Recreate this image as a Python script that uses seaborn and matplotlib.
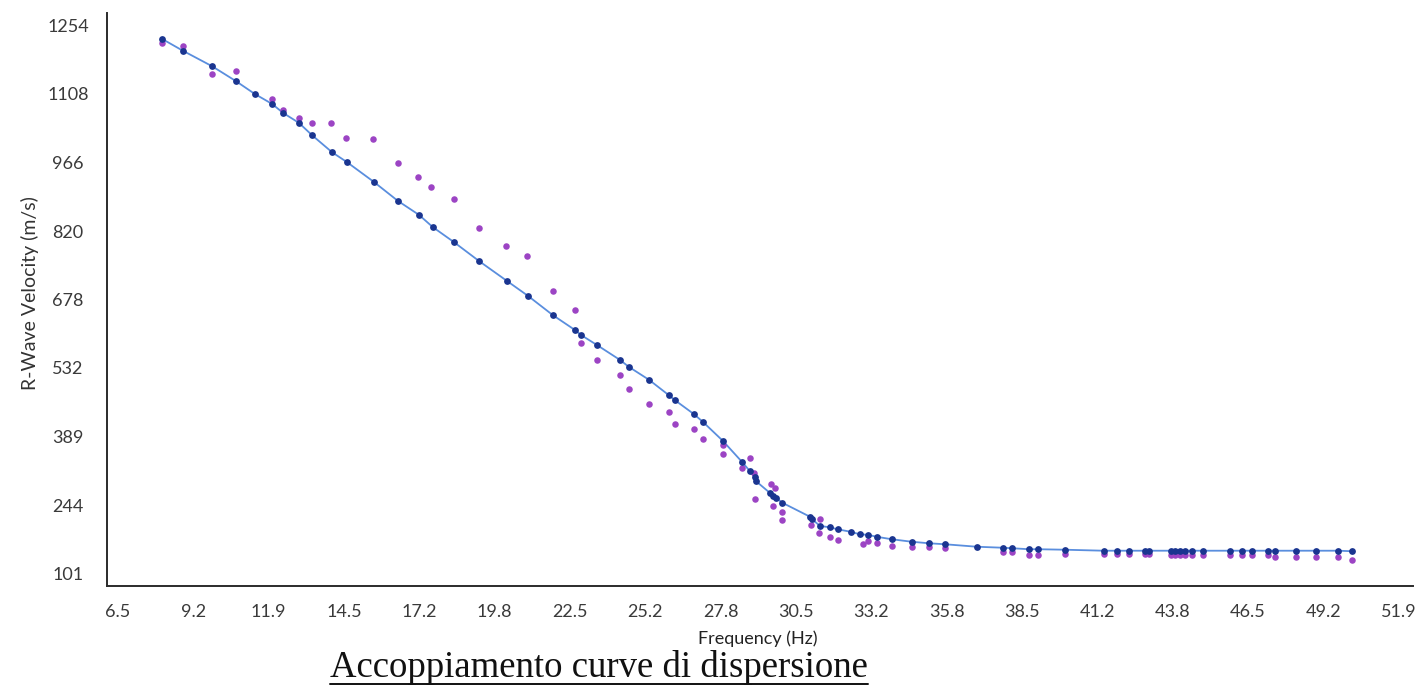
import matplotlib
matplotlib.use("Agg")
import matplotlib.pyplot as plt
import numpy as np
import pandas as pd
import seaborn as sns
from matplotlib.lines import Line2D
from matplotlib.transforms import ScaledTranslation

# Theoretical (fitted) dispersion curve, sampled at the picked frequencies
freq_model = [8.41, 9.14, 10.15, 10.98, 11.64, 12.24, 12.62, 13.17, 13.63, 14.32,
              14.84, 15.78, 16.61, 17.34, 17.83, 18.56, 19.43, 20.40, 21.13, 22.00,
              22.77, 22.98, 23.53, 24.33, 24.64, 25.34, 26.03, 26.24, 26.90, 27.22,
              27.91, 28.57, 28.85, 29.02, 29.06, 29.55, 29.65, 29.75, 29.96, 30.95,
              31.02, 31.28, 31.63, 31.91, 32.36, 32.67, 32.95, 33.26, 33.79, 34.48,
              35.07, 35.63, 36.74, 37.64, 37.96, 38.55, 38.86, 39.80, 41.15, 41.61,
              42.02, 42.58, 42.72, 43.48, 43.62, 43.80, 43.97, 44.21, 44.59, 45.53,
              45.95, 46.30, 46.85, 47.10, 47.83, 48.52, 49.29, 49.77]
vel_model = [1202, 1178, 1147, 1117, 1091, 1071, 1053, 1033, 1008, 974,
             954, 914, 876, 848, 823, 793, 755, 715, 685, 646,
             616, 606, 586, 556, 542, 516, 485, 475, 447, 431,
             393, 351, 332, 321, 312, 288, 282, 279, 269, 240,
             235, 222, 219, 215, 210, 205, 204, 200, 195, 190,
             187, 185, 180, 178, 177, 175, 175, 174, 172, 172,
             172, 172, 172, 172, 172, 172, 172, 172, 172, 172,
             172, 172, 172, 172, 172, 172, 172, 171]

# Experimental (picked) dispersion points
freq_exp = [8.41, 9.14, 10.15, 10.98, 12.24, 12.62, 13.17, 13.63, 14.29, 14.81,
            15.75, 16.61, 17.31, 17.76, 18.56, 19.43, 20.37, 21.10, 22.00, 22.77,
            22.98, 23.53, 24.33, 24.64, 25.34, 26.03, 26.24, 26.90, 27.22, 27.91,
            27.91, 28.57, 28.85, 28.99, 29.02, 29.58, 29.72, 29.65, 29.96, 29.96,
            30.97, 31.28, 31.25, 31.63, 31.91, 32.78, 32.95, 33.26, 33.79, 34.48,
            35.07, 35.63, 37.64, 37.96, 38.55, 38.86, 39.80, 41.15, 41.61, 42.02,
            42.58, 42.72, 43.48, 43.62, 43.80, 43.97, 44.21, 44.59, 45.53, 45.95,
            46.30, 46.85, 47.10, 47.83, 48.52, 49.29, 49.77]
vel_exp = [1194, 1188, 1131, 1137, 1081, 1059, 1043, 1033, 1033, 1002,
           1000, 952, 924, 904, 880, 821, 785, 765, 695, 656,
           590, 556, 526, 497, 467, 451, 427, 417, 397, 385,
           367, 339, 359, 329, 277, 306, 299, 261, 250, 234,
           224, 235, 208, 200, 194, 186, 192, 187, 182, 179,
           180, 177, 170, 170, 163, 163, 165, 165, 165, 165,
           165, 165, 164, 164, 164, 164, 163, 163, 163, 163,
           163, 164, 159, 159, 159, 159, 153]

x_tick_labels = ["6.5", "9.2", "11.9", "14.5", "17.2", "19.8", "22.5", "25.2", "27.8",
                 "30.5", "33.2", "35.8", "38.5", "41.2", "43.8", "46.5", "49.2", "51.9"]
y_tick_labels = ["101", "244", "389", "532", "678", "820", "966", "1108", "1254"]

model = pd.DataFrame({"freq": freq_model, "vel": vel_model})
exp = pd.DataFrame({"freq": freq_exp, "vel": vel_exp})

sns.set_theme(style="white")
plt.rcParams["font.family"] = ["Lato", "DejaVu Sans"]

W, H = 1418, 688
fig = plt.figure(figsize=(W / 100, H / 100), dpi=100)
fig.patch.set_facecolor("white")
ax = fig.add_axes([107 / W, 102 / H, 1306 / W, 573 / H])
ax.set_facecolor("white")

sns.lineplot(data=model, x="freq", y="vel", ax=ax, color="#5a8ede", linewidth=1.3,
             sort=True, estimator=None, zorder=2)
sns.scatterplot(data=exp, x="freq", y="vel", ax=ax, color="#9c44c4", s=22,
                linewidth=0, zorder=3)
sns.scatterplot(data=model, x="freq", y="vel", ax=ax, color="#1a3590", s=24,
                linewidth=0, zorder=4)

xmin, xmax = float(x_tick_labels[0]), float(x_tick_labels[-1])
ymin, ymax = float(y_tick_labels[0]), float(y_tick_labels[-1])
ax.set_xlim(xmin, xmax)
ax.set_ylim(ymin, ymax)
ax.set_xticks(np.linspace(xmin, xmax, len(x_tick_labels)))
ax.set_xticklabels(x_tick_labels)
ax.set_yticks(np.linspace(ymin, ymax, len(y_tick_labels)))
ax.set_yticklabels(y_tick_labels)

sns.despine(ax=ax)
for side in ("left", "bottom"):
    ax.spines[side].set_color("#2b2b2b")
    ax.spines[side].set_linewidth(1.4)

ax.tick_params(axis="both", which="major", direction="out", length=6, width=1.2,
               color="#2b2b2b", labelcolor="#3a3a3a", labelsize=13)
ax.tick_params(axis="x", pad=7)
ax.tick_params(axis="y", pad=22)

# tick labels sit on a slightly tighter pitch than the ticks themselves
nx = len(x_tick_labels)
for i, lab in enumerate(ax.get_xticklabels()):
    dx = 11 - 25.5 * i / (nx - 1)
    lab.set_transform(lab.get_transform() + ScaledTranslation(dx / 100, 0, fig.dpi_scale_trans))
ny = len(y_tick_labels)
for j, lab in enumerate(ax.get_yticklabels()):
    lab.set_horizontalalignment("center")
    dy = 12.5 - 25 * j / (ny - 1)
    lab.set_transform(lab.get_transform() + ScaledTranslation(0, dy / 100, fig.dpi_scale_trans))

ax.set_xlabel("Frequency (Hz)", fontsize=13, color="#222222")
ax.xaxis.set_label_coords((758 - 107) / 1306, (586 - 630) / 573)
ax.set_ylabel("R-Wave Velocity (m/s)", fontsize=14, color="#333333")
ax.yaxis.set_label_coords((39 - 107) / 1306, (586 - 293) / 573)

title = fig.text(330 / W, (H - 677) / H, "Accoppiamento curve di dispersione",
                 family=["Liberation Serif", "DejaVu Serif"], fontsize=26.5,
                 color="#111111", ha="left", va="baseline")
fig.canvas.draw()
bb = title.get_window_extent(fig.canvas.get_renderer())
uy = (H - 684) / H
fig.add_artist(Line2D([bb.x0 / W, bb.x1 / W], [uy, uy], transform=fig.transFigure,
                      color="#111111", linewidth=1.4))

fig.savefig("out.png", dpi=100, facecolor="white")
